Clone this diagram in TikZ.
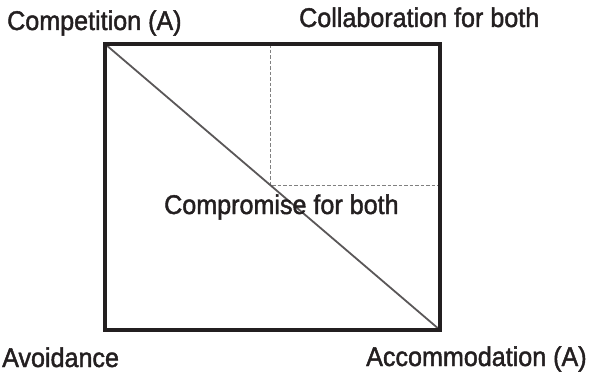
\documentclass[tikz,border=0pt]{standalone}
\usepackage{fontspec}
\setmainfont{Liberation Sans}[FakeStretch=0.93,FakeBold=1.6]
\usepackage{tikz}
\usetikzlibrary{positioning}

\definecolor{ink}{HTML}{231F20}

\begin{document}
\begin{tikzpicture}[x=1pt,y=-1pt,font=\fontsize{27}{32}\selectfont,
    label/.style={inner sep=0pt,anchor=base west,text=ink},
    frame/.style={draw=ink,line width=3.6pt},
    diag/.style={draw=ink!75,line width=1.8pt},
    split/.style={draw=black!50,line width=0.9pt,dash pattern=on 3.5pt off 2pt}]
    \useasboundingbox (0,0) rectangle (590,372);
    \coordinate (tl) at (105,44);
    \coordinate (br) at (440,330);
    \coordinate (mid) at (270,185);
    % quadrants
    \draw[split] (mid |- tl) -- (mid) -- (mid -| br);
    \draw[diag] (tl) -- (br);
    \draw[frame] (tl) rectangle (br);
    % corner labels
    \node[label] (comp) at (7,30) {Competition (A)};
    \node[label] (collab) at (299,27) {Collaboration for both};
    \node[label] (avoid) at (2,367) {Avoidance};
    \node[label] (accom) at (366,366) {Accommodation (A)};
    \node[label] (compro) at (164,214) {Compromise for both};
\end{tikzpicture}
\end{document}
